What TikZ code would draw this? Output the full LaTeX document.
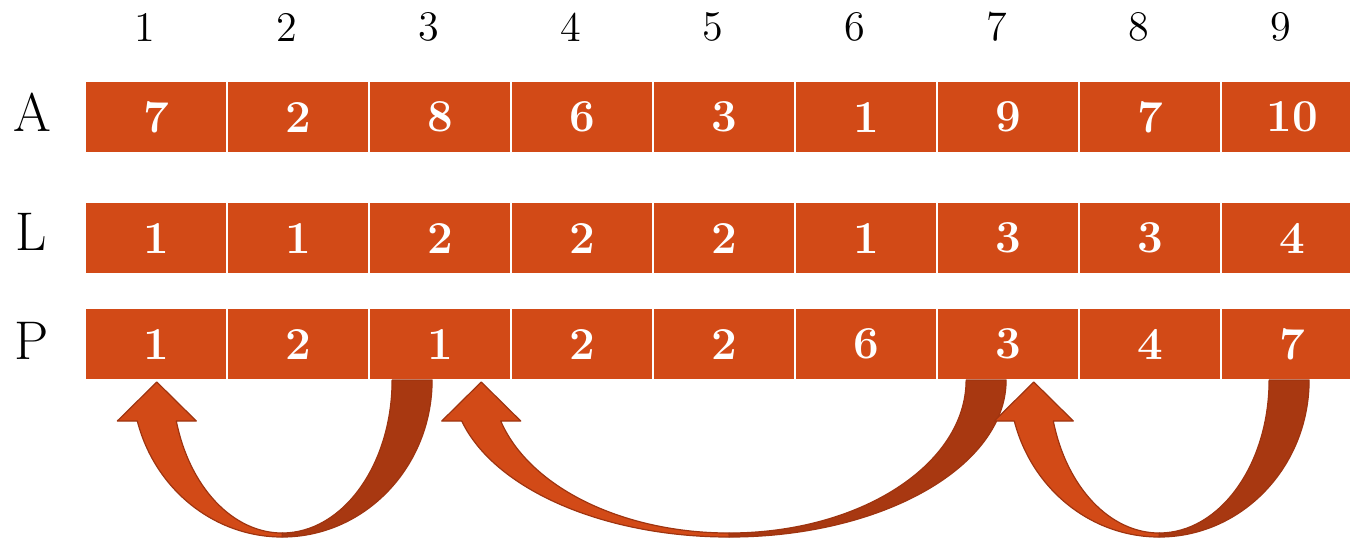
\documentclass[tikz,border=0pt]{standalone}
\usepackage{fontspec}
\usepackage{tikz}
\usetikzlibrary{calc}
\definecolor{cellred}{RGB}{210,74,23}
\definecolor{tailred}{RGB}{168,56,17}
\definecolor{edgered}{RGB}{158,52,16}

\begin{document}
\begin{tikzpicture}[x=0.1mm, y=-0.1mm,
    cell/.style={draw=white, line width=0.25mm, fill=cellred, minimum width=14.2mm, minimum height=7.2mm, inner sep=0pt, outer sep=0pt, text=white, font=\fontsize{13}{15}\selectfont\bfseries},
    idx/.style={font=\fontsize{12}{14}\selectfont},
    rowname/.style={font=\fontsize{15.5}{18}\selectfont},
    headpart/.style={fill=cellred, draw=edgered, line width=0.12mm, line join=round},
    tailpart/.style={fill=tailred, draw=edgered, line width=0.12mm, line join=round}
]
\clip (0,0) rectangle (1350,538);

% indices
\foreach \i in {1,...,9}
  \node[idx] (h\i) at (3+142*\i,27) {\i};

\node[rowname] (A) at (32,112) {A};
\node[rowname] (L) at (31,232) {L};
\node[rowname] (P) at (32,341) {P};

% the three arrays
\foreach \v [count=\i] in {7,2,8,6,3,1,9,7,10}
  \node[cell] (a\i) at (14+142*\i,117) {\v};
\foreach \v [count=\i] in {1,1,2,2,2,1,3,3,4}
  \node[cell] (l\i) at (14+142*\i,238) {\v};
\foreach \v [count=\i] in {1,2,1,2,2,6,3,4,7}
  \node[cell] (p\i) at (14+142*\i,344) {\v};

% centres of the curved arrows under P
\path (p1.south) -- (p3.south) coordinate[pos=0.444] (m1);
\path (p3.south) -- (p7.south) coordinate[pos=0.509] (m2);
\path (p7.south) -- (p9.south) coordinate[pos=0.532] (m3);

\foreach \m/\rout in {m1/150, m2/277, m3/150} {
  \pgfmathsetmacro\rin{\rout-40}
  \filldraw[tailpart] ($(\m)+(\rin,0)$) arc[start angle=0, end angle=90, x radius=\rin, y radius=153]
    -- ++(0,4) arc[start angle=90, end angle=0, x radius=\rout, y radius=157] -- cycle;
  \filldraw[headpart] ($(\m)+(0,157)$) arc[start angle=90, end angle=164.86, x radius=\rout, y radius=157]
    -- ++(-20,0) -- ++(39.5,-39) -- ++(39.5,39) -- ++(-20,0)
    arc[start angle=164.46, end angle=90, x radius=\rin, y radius=153] -- cycle;
}
\end{tikzpicture}
\end{document}
